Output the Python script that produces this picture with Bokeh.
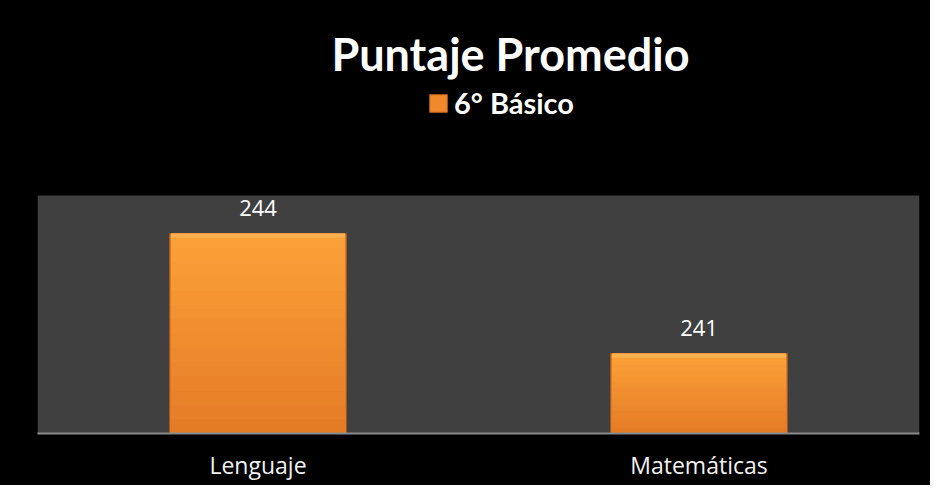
from bokeh.plotting import figure
from bokeh.models import (ColumnDataSource, FactorRange, Range1d, Label, LabelSet,
                          Legend, LegendItem, BoxAnnotation)
from bokeh.core.properties import value
from bokeh.embed import file_html
from bokeh.resources import INLINE

# ---- data ----
categories = ["Lenguaje", "Matemáticas"]
scores = [244, 241]
score_labels = ["244", "241"]
series_name = "6° Básico"
title_text = "Puntaje Promedio"
y_min, y_max = 239, 244.95       # value axis of the plot area
y_view_top = 249.525             # extra room above the plot area for title/legend

src = ColumnDataSource(dict(cat=categories, score=scores, lbl=score_labels))

p = figure(x_range=FactorRange(*categories, range_padding=0),
           y_range=Range1d(y_min, y_view_top),
           width=930, height=485, output_backend="svg", toolbar_location=None,
           min_border_left=37, min_border_right=11, min_border_top=12,
           min_border_bottom=52)
p.styles = {"background-color": "#000000"}
p.background_fill_color = "#000000"
p.border_fill_color = "#000000"
p.outline_line_color = None
p.outline_line_alpha = 0
p.grid.visible = False
p.yaxis.visible = False

# gray plot area
p.add_layout(BoxAnnotation(bottom=y_min, top=y_max, fill_color="#404040",
                           fill_alpha=1, line_color=None, level="underlay"))

# base bar (legend)
base = p.vbar(x="cat", top="score", bottom=y_min, width=0.40, source=src,
              fill_color="#f0882c", line_color="#b85f1a", line_width=1)

# gradient layers (light top -> darker bottom)
light = (252, 160, 56)
dark = (228, 124, 38)
N = 14
for k in range(N):
    t = k / (N - 1)
    c = tuple(int(round(light[i] + (dark[i] - light[i]) * t)) for i in range(3))
    tops = [y_min + (s - y_min) * (1 - k / N) for s in scores]
    p.vbar(x=categories, top=tops, bottom=y_min, width=0.40 - 0.006,
           fill_color="#%02x%02x%02x" % c, line_color=None)

# top bevel highlight
p.vbar(x=categories, top=scores, bottom=[s - 0.1 for s in scores], width=0.40 - 0.006,
       fill_color="#fdb24f", line_color=None)

# value labels
p.add_layout(LabelSet(x="cat", y="score", text="lbl", source=src,
                      text_align="center", text_baseline="alphabetic",
                      y_offset=18, text_color="#ffffff",
                      text_font=value("Open Sans"), text_font_size="22px"))

# x axis
ax = p.xaxis[0]
ax.axis_line_color = "#8a8a8a"
ax.axis_line_width = 2
ax.major_tick_line_color = None
ax.minor_tick_line_color = None
ax.major_tick_out = 0
ax.major_label_standoff = 15
ax.major_label_text_color = "#f2f2f2"
ax.major_label_text_font = "Open Sans"
ax.major_label_text_font_size = "23px"

# title
p.add_layout(Label(x=473, y=380, x_units="screen", y_units="screen",
                   text=title_text, text_align="center", text_baseline="alphabetic",
                   text_color="#ffffff", text_font="Lato", text_font_style="bold",
                   text_font_size="45px"))

# legend
leg = Legend(items=[LegendItem(label=series_name, renderers=[base])],
             location=(390, 313), orientation="horizontal",
             background_fill_alpha=0, border_line_color=None,
             padding=0, margin=0, glyph_width=22, glyph_height=22,
             label_standoff=5, label_text_color="#ffffff",
             label_text_font="Lato", label_text_font_style="bold",
             label_text_font_size="29px")
p.add_layout(leg, "center")

open("out.html", "w").write(file_html(p, INLINE))
